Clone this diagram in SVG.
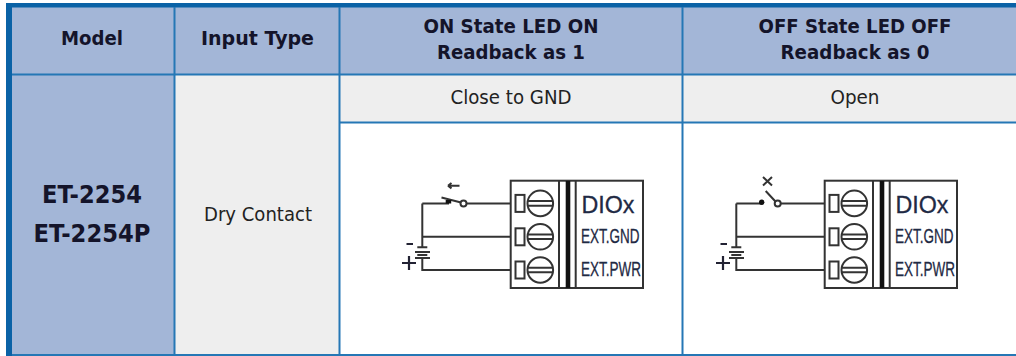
<svg xmlns="http://www.w3.org/2000/svg" width="1016" height="356" viewBox="0 0 1016 356">
<style>
.h{font-family:"DejaVu Sans",sans-serif;font-weight:bold;font-size:19px;fill:#14142a;text-anchor:middle}
.b{font-family:"DejaVu Sans",sans-serif;font-size:19px;fill:#222;text-anchor:middle}
.m{font-family:"DejaVu Sans",sans-serif;font-weight:bold;font-size:24px;fill:#14142a;text-anchor:middle}
.g{stroke:#2577b5;stroke-width:2;fill:none}
.w{stroke:#333;stroke-width:2;fill:none}
.k{font-family:"Liberation Sans",sans-serif;fill:#1f2a44;stroke:#1f2a44;stroke-width:.3}
</style>
<defs>
<g id="screw">
<rect class="w" x="515.500" y="-8.500" width="9" height="17"/>
<circle class="w" cx="540.300" cy="0" r="12.800"/>
<path class="w" d="M527.500-2.300H553M527.500 2.300H553"/>
</g>
<g id="block">
<rect class="w" x="510.700" y="180.700" width="132.300" height="107.300"/>
<path class="w" d="M559 181V288M575.700 181V288"/>
<rect x="565.700" y="181" width="4.600" height="107" fill="#111"/>
<use href="#screw" y="203.400"/>
<use href="#screw" y="236.800"/>
<use href="#screw" y="270"/>
<text class="k" x="581.500" y="213" font-size="24" textLength="53" lengthAdjust="spacingAndGlyphs">DIOx</text>
<text class="k" x="581" y="243" font-size="20" textLength="58.500" lengthAdjust="spacingAndGlyphs">EXT.GND</text>
<text class="k" x="581" y="276" font-size="20" textLength="60" lengthAdjust="spacingAndGlyphs">EXT.PWR</text>
<path class="w" d="M422.300 203.400V247M422.300 236.800H510.700M417.300 247.300H427.300M415 252H430M417.300 255H427.300M415 258H430M422.300 258V270H510.700"/>
<path d="M406.500 244H413" stroke="#223" stroke-width="2" fill="none"/>
<path d="M402 263H416M409 256V270" stroke="#223" stroke-width="2.200" fill="none"/>
</g>
</defs>
<rect width="1016" height="356" fill="#fff"/>
<g id="cells">
<rect x="12" y="7" width="1004" height="67" fill="#a3b6d7"/>
<rect x="12" y="74" width="163" height="281" fill="#a3b6d7"/>
<rect x="175" y="74" width="165" height="281" fill="#eee"/>
<rect x="340" y="74" width="676" height="48.500" fill="#eee"/>
</g>
<g id="grid">
<rect x="6" y="3" width="1010" height="4.500" fill="#0a62a6"/>
<rect x="6" y="3" width="6" height="353" fill="#0a62a6"/>
<path class="g" d="M12 74.500H1016M340 122.500H1016M174.500 7V355M339.500 7V355M682.500 7V355M12 355H1016"/>
</g>
<g id="labels">
<text class="h" x="92" y="45" textLength="62" lengthAdjust="spacingAndGlyphs">Model</text>
<text class="h" x="257.500" y="45" textLength="113" lengthAdjust="spacingAndGlyphs">Input Type</text>
<text class="h" x="511" y="33" textLength="175" lengthAdjust="spacingAndGlyphs">ON State LED ON</text>
<text class="h" x="511" y="59" textLength="148" lengthAdjust="spacingAndGlyphs">Readback as 1</text>
<text class="h" x="855" y="33" textLength="193" lengthAdjust="spacingAndGlyphs">OFF State LED OFF</text>
<text class="h" x="855" y="59" textLength="149" lengthAdjust="spacingAndGlyphs">Readback as 0</text>
<text class="b" x="511" y="104" textLength="121" lengthAdjust="spacingAndGlyphs">Close to GND</text>
<text class="b" x="855" y="104" textLength="49" lengthAdjust="spacingAndGlyphs">Open</text>
<text class="m" x="92" y="203" textLength="100" lengthAdjust="spacingAndGlyphs">ET-2254</text>
<text class="m" x="92" y="242" textLength="117" lengthAdjust="spacingAndGlyphs">ET-2254P</text>
<text class="b" x="258" y="221" textLength="108" lengthAdjust="spacingAndGlyphs">Dry Contact</text>
</g>
<g id="on-state">
<use href="#block"/>
<path class="w" d="M422.300 203.400H449M441.500 197.500L461 202.500M467 203.400H510.700M448 185.700H459.500M448 185.700L451.500 183M448 185.700L451.500 188.400"/>
<rect x="445.700" y="200" width="5.500" height="3.500" fill="#111"/>
<circle class="w" cx="463.500" cy="203.400" r="3"/>
</g>
<g id="off-state" transform="translate(314 0)">
<use href="#block"/>
<path class="w" d="M422.300 203.400H447M467 203.400H510.700M451.700 191L461.700 201.700M449 177L458 185.500M458 177L449 185.500"/>
<circle cx="447.700" cy="202.300" r="2.700" fill="#111"/>
<circle class="w" cx="463.700" cy="203.400" r="3"/>
</g>
</svg>
